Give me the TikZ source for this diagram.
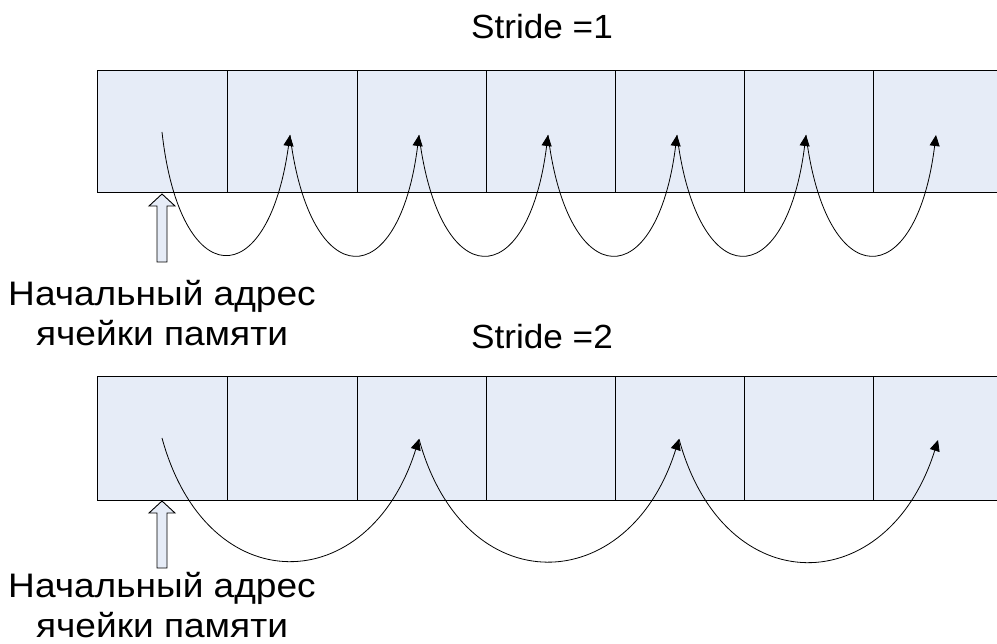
\documentclass[tikz,border=0pt]{standalone}
\usepackage{fontspec}
\setmainfont{Liberation Sans}
\newfontfamily\labelfont[FakeStretch=1.09]{Liberation Sans}
\newfontfamily\titlefont[FakeStretch=1.05]{Liberation Sans}
\usetikzlibrary{arrows.meta}
\definecolor{cellblue}{RGB}{230,236,247}
\begin{document}
\begin{tikzpicture}[x=1pt,y=-1pt,
  gridline/.style={line width=1pt,draw=black},
  hop/.style={line width=0.8pt,-{Triangle[length=11pt,width=10pt]}},
  hollow/.style={line width=0.9pt,draw=black,fill=cellblue},
  title/.style={font=\titlefont\fontsize{33.5}{38}\selectfont,anchor=base},
  label/.style={font=\labelfont\fontsize{34}{40}\selectfont,anchor=base}
]
\useasboundingbox (0,0) rectangle (997,644);

% ---------- row 1 ----------
\fill[cellblue] (97,71) rectangle (997,193);
\foreach \x in {227,357,486,615,744,873}{\draw[gridline] (\x,71) -- (\x,193);}
\draw[gridline] (997,71) -- (97,71) -- (97,193) -- (997,193);
\node[title] (st1) at (542,39) {Stride =1};

\coordinate (s1) at (162,132);
\coordinate (a1) at (290,135);
\coordinate (a2) at (419,135);
\coordinate (a3) at (548,135);
\coordinate (a4) at (677,135);
\coordinate (a5) at (806,135);
\coordinate (a6) at (936,135);
\draw[hop] (s1) .. controls +(18,162) and +(-22,160) .. (a1);
\draw[hop] (a1) .. controls +(20,160) and +(-20,160) .. (a2);
\draw[hop] (a2) .. controls +(20,160) and +(-20,160) .. (a3);
\draw[hop] (a3) .. controls +(20,160) and +(-20,160) .. (a4);
\draw[hop] (a4) .. controls +(20,160) and +(-20,160) .. (a5);
\draw[hop] (a5) .. controls +(20,160) and +(-20,160) .. (a6);

\draw[hollow] (162,194) -- (175,206) -- (167,206) -- (167,262) -- (157,262) -- (157,206) -- (149,206) -- cycle;
\node[label] (lb1a) at (162,306) {Начальный адрес};
\node[label] (lb1b) at (162,346) {ячейки памяти};

% ---------- row 2 ----------
\fill[cellblue] (97,377) rectangle (997,500);
\foreach \x in {227,357,486,615,744,873}{\draw[gridline] (\x,377) -- (\x,500);}
\draw[gridline] (997,377) -- (97,377) -- (97,500) -- (997,500);
\node[title] (st2) at (542,349) {Stride =2};

\coordinate (s2) at (162,438);
\coordinate (b1) at (419,439);
\coordinate (b2) at (679,439);
\coordinate (b3) at (938,440);
\draw[hop] (s2) .. controls +(45,165) and +(-50,160) .. (b1);
\draw[hop] (b1) .. controls +(45,165) and +(-50,160) .. (b2);
\draw[hop] (b2) .. controls +(45,165) and +(-50,160) .. (b3);

\draw[hollow] (162,501) -- (175,513) -- (167,513) -- (167,568) -- (157,568) -- (157,513) -- (149,513) -- cycle;
\node[label] (lb2a) at (162,597) {Начальный адрес};
\node[label] (lb2b) at (162,637) {ячейки памяти};
\end{tikzpicture}
\end{document}
